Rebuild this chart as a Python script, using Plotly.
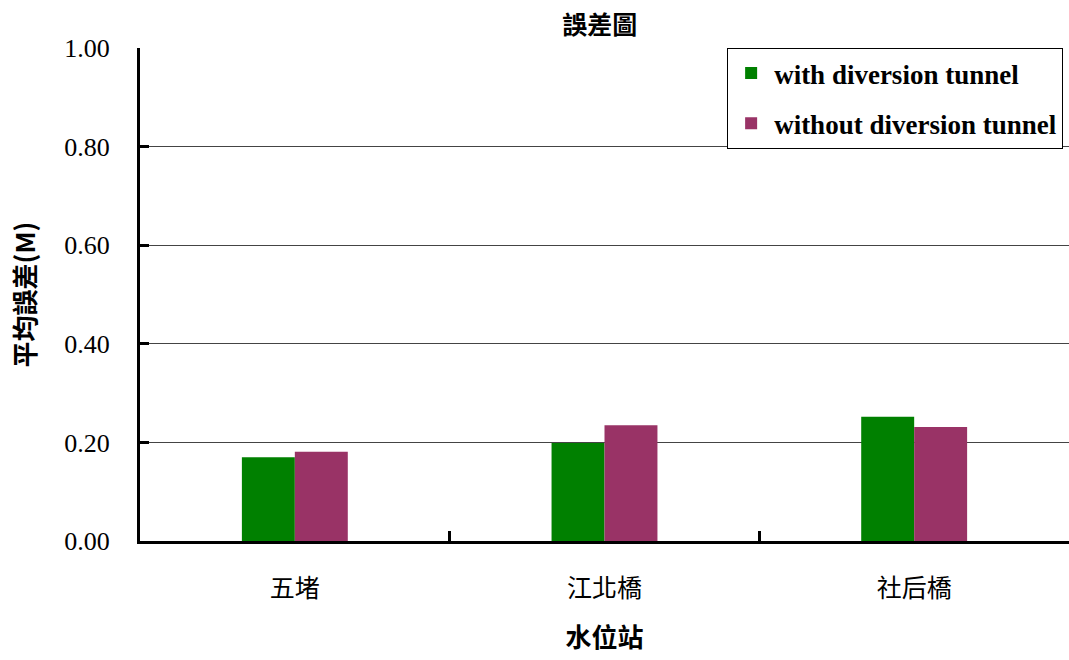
import plotly.graph_objects as go

stations = ["五堵", "江北橋", "社后橋"]
with_tunnel = [0.170, 0.199, 0.252]
without_tunnel = [0.181, 0.235, 0.231]
series_names = ["with diversion tunnel", "without diversion tunnel"]
colors = ["#008000", "#993366"]

serif = "Liberation Serif"
cjk = "Noto Sans CJK TC"

fig = go.Figure()
for name, vals, col, grp in zip(series_names, [with_tunnel, without_tunnel], colors, ["a", "b"]):
    fig.add_trace(go.Bar(x=stations, y=vals, name="<b>" + name + "</b>",
                         marker=dict(color=col, line=dict(width=0)),
                         legendgroup=grp))

fig.update_layout(
    width=1069, height=660,
    margin=dict(l=140, r=0, t=48, b=119),
    paper_bgcolor="white", plot_bgcolor="white",
    barmode="group", bargap=0.658, bargroupgap=0,
    title=dict(text="<b>誤差圖</b>", x=0.561, xanchor="center", y=0.962, yanchor="middle",
               font=dict(family=cjk, size=25, color="black")),
    legend=dict(x=0.632, xanchor="left", y=1.0, yanchor="top",
                bordercolor="black", borderwidth=1, bgcolor="white",
                font=dict(family=serif, size=27, color="black"),
                traceorder="grouped", tracegroupgap=12,
                itemwidth=36),
    showlegend=True,
)

fig.update_yaxes(range=[0, 1.0], tickvals=[0, 0.2, 0.4, 0.6, 0.8, 1.0], tickformat=".2f",
                 showline=True, linecolor="black", linewidth=3,
                 ticks="inside", ticklen=9, tickwidth=3, tickcolor="black",
                 showgrid=True, gridcolor="#444444", gridwidth=1,
                 tickfont=dict(family=serif, size=26, color="black"),
                 ticklabelstandoff=22,
                 zeroline=False,
                 title=dict(text="<b>平均誤差(M)</b>", font=dict(family=cjk, size=26, color="black"),
                            standoff=22))

fig.update_xaxes(showline=True, linecolor="black", linewidth=3,
                 ticks="inside", ticklen=10, tickwidth=3, tickcolor="black",
                 tickson="boundaries",
                 tickfont=dict(family=cjk, size=25, color="black"),
                 ticklabelstandoff=23,
                 title=dict(text="<b>水位站</b>", font=dict(family=cjk, size=26, color="black"),
                            standoff=26))

fig.write_html("out.html")
